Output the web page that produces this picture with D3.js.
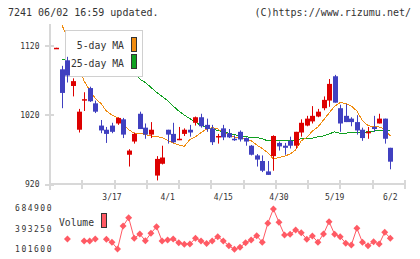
<!DOCTYPE html>
<html>
<head>
<meta charset="utf-8">
<script src="https://cdn.jsdelivr.net/npm/d3@7"></script>
<style>
  html, body { margin: 0; padding: 0; background: #fff; }
  svg { display: block; }
  text { font-family: "DejaVu Sans Mono", monospace; fill: #333; }
</style>
</head>
<body>
<div id="chart"></div>
<script>
// daily prices, oldest first (6/2 is the last one)
const open = [1116, 1086, 1099, 1062, 999, 1041, 1059, 1037, 1005, 999, 1005, 1008, 1014, 963, 982, 1022, 1002, 992, 933, 950,
  999, 993, 984, 993, 999, 1009, 1017, 1006, 1001, 988, 1001, 994, 986, 996, 987, 976, 962, 954, 939, 961,
  980, 976, 983, 976, 995, 1005, 1011, 1018, 1030, 1041, 1076, 1030, 1019, 1015, 1010, 999, 995, 1003, 1008, 1015, 973];
const high = [1117, 1091, 1104, 1073, 1029, 1053, 1061, 1041, 1013, 1003, 1009, 1017, 1016, 971, 995, 1025, 1008, 1010, 961, 976,
  999, 1009, 1003, 1001, 1006, 1018, 1022, 1015, 1006, 993, 1006, 1000, 991, 998, 988, 977, 964, 962, 954, 991,
  982, 980, 989, 996, 1014, 1019, 1033, 1029, 1047, 1072, 1078, 1035, 1036, 1017, 1020, 1002, 1003, 1019, 1022, 1015, 973];
const low = [1116, 1030, 1067, 1047, 995, 1026, 1039, 1023, 994, 980, 994, 1006, 987, 946, 979, 1000, 986, 987, 926, 949,
  979, 980, 984, 990, 989, 1005, 1002, 996, 977, 979, 984, 987, 983, 982, 976, 962, 946, 938, 934, 940,
  969, 963, 972, 972, 989, 1004, 1008, 1017, 1027, 1032, 1038, 996, 1010, 1004, 992, 983, 986, 996, 1008, 979, 942];
const close = [1117, 1052, 1077, 1069, 1025, 1043, 1040, 1025, 998, 993, 996, 1016, 992, 969, 993, 1000, 992, 999, 957, 959,
  992, 981, 986, 999, 995, 1017, 1004, 1000, 981, 990, 988, 988, 984, 985, 982, 963, 956, 940, 934, 990,
  975, 973, 976, 996, 1009, 1015, 1019, 1025, 1042, 1065, 1038, 1008, 1010, 1010, 998, 987, 996, 1000, 1015, 986, 953];

const ma5 = [null, 1150, 1131, 1113, 1091, 1069, 1056, 1044, 1037, 1026, 1020, 1016, 1008, 999, 994, 994, 992, 990, 989, 988,
  984, 980, 977, 975, 985, 989, 995, 1000, 1002, 1000, 995, 992, 988, 987, 986, 983, 977, 972, 966, 957,
  959, 961, 964, 970, 983, 988, 997, 1003, 1013, 1023, 1033, 1038, 1037, 1033, 1026, 1012, 1005, 1003, 1003, 1000, 990];
const ma25 = [null, 1100, 1099, 1098, 1097, 1096, 1095, 1094, 1093, 1092, 1091, 1089, 1087, 1085, 1082, 1072, 1067, 1060, 1053, 1047,
  1041, 1033, 1026, 1020, 1015, 1010, 1005, 1003, 1000, 998, 996, 994, 992, 990, 989, 988, 988, 986, 983, 983,
  983, 983, 983, 984, 986, 986, 987, 989, 990, 993, 996, 994, 994, 995, 995, 995, 996, 997, 998, 998, 998];

const volume = [null, null, 248100, null, null, 219700, 219700, 248100, null, 243900, 201200, 105900, 433100, 551200, 258100, 319300, 224000, 329200, 423100, 219700,
  233900, 248100, 195500, 172700, 177000, 258100, 219700, 184100, 219700, 280900, 219700, 152800, 101600, 130100, 195500, 233900, 295100, 201200, 471500, 674900,
  485700, 305000, 315000, 376200, 337800, 243900, 290800, 201200, 319300, 494300, 315000, 280900, 187000, 162800, 400400, 201200, 152800, 209700, 177000, 343500, 258100];

const dateIdx = [10, 20, 30, 40, 50, 60];
const dateLabels = ["3/17", "4/1", "4/15", "4/30", "5/19", "6/2"];
const priceTicks = [920, 1020, 1120];
const volTicks = [101600, 393250, 684900];

const W = 420, H = 259;
const RED = "#dd0000", BLUE = "#4040c0", ORANGE = "#f08c10", GREEN = "#10a020", VOL = "#ff5a64", GRID = "#d8d8d8";

const svg = d3.select("#chart").append("svg")
  .attr("width", W).attr("height", H);

// header
svg.append("text").attr("x", 8).attr("y", 16).style("font-size", "10px")
  .text("7241 06/02 16:59 updated.");
svg.append("text").attr("x", 411).attr("y", 16).attr("text-anchor", "end").style("font-size", "10px")
  .text("(C)https://www.rizumu.net/");

const n = close.length;
const x = d3.scaleLinear().domain([0, n - 1]).range([56.3, 390.3]);
const y = d3.scaleLinear().domain([920, 1120]).range([184.6, 45.7]);
const yv = d3.scaleLinear().domain([101600, 684900]).range([249.3, 208.3]);

// axes
const axis = svg.append("g").attr("stroke", GRID).attr("stroke-width", 2);
axis.append("line").attr("x1", 50).attr("x2", 50).attr("y1", 24).attr("y2", 190);
axis.append("line").attr("x1", 50).attr("x2", 405).attr("y1", 184).attr("y2", 184);
priceTicks.forEach(t => {
  axis.append("line").attr("x1", 45).attr("x2", 54).attr("y1", Math.round(y(t))).attr("y2", Math.round(y(t)));
  svg.append("text").attr("x", 39.5).attr("y", y(t)).attr("dy", "0.35em")
    .attr("text-anchor", "end").style("font-size", "8px").text(t);
});
const tx = d3.scaleLinear().domain([0, 11]).range([50, 405]);
d3.range(1, 12).forEach(k => {
  const px = Math.round(tx(k));
  axis.append("line").attr("x1", px).attr("x2", px).attr("y1", 180).attr("y2", 189);
});
dateIdx.forEach((d, i) => {
  svg.append("text").attr("x", x(d)).attr("y", 197.5).attr("dy", "0.35em")
    .attr("text-anchor", "middle").style("font-size", "8px").text(dateLabels[i]);
});

// moving averages
const maLine = arr => d3.line()
  .defined(i => arr[i] != null)
  .x(i => x(i)).y(i => y(arr[i]))(d3.range(n));
svg.append("path").attr("d", maLine(ma25)).attr("fill", "none")
  .attr("stroke", GREEN).attr("stroke-width", 1).attr("shape-rendering", "crispEdges");
svg.append("path").attr("d", maLine(ma5)).attr("fill", "none")
  .attr("stroke", ORANGE).attr("stroke-width", 1).attr("shape-rendering", "crispEdges");

// legend box (covers the lines under it)
const lg = svg.append("g");
lg.append("rect").attr("x", 65.5).attr("y", 30.5).attr("width", 77).attr("height", 46)
  .attr("fill", "#fff").attr("stroke", "#d0d0d0");
lg.append("text").attr("x", 124).attr("y", 46).attr("dy", "0.35em").attr("text-anchor", "end")
  .style("font-size", "9.8px").text("5-day MA");
lg.append("text").attr("x", 124).attr("y", 63.5).attr("dy", "0.35em").attr("text-anchor", "end")
  .style("font-size", "9.8px").text("25-day MA");
lg.append("rect").attr("x", 131.5).attr("y", 37.5).attr("width", 5).attr("height", 14)
  .attr("fill", ORANGE).attr("stroke", "#333");
lg.append("rect").attr("x", 131.5).attr("y", 54.5).attr("width", 5).attr("height", 14)
  .attr("fill", GREEN).attr("stroke", "#333");

// candles
const candles = svg.append("g");
d3.range(n).forEach(i => {
  const cx = Math.round(x(i));
  const col = close[i] >= open[i] ? RED : BLUE;
  candles.append("line").attr("x1", cx + 0.5).attr("x2", cx + 0.5)
    .attr("y1", y(high[i])).attr("y2", y(low[i])).attr("stroke", col).attr("stroke-width", 1);
  const top = y(Math.max(open[i], close[i]));
  const bh = Math.max(1.5, Math.abs(y(open[i]) - y(close[i])));
  candles.append("rect").attr("x", cx - 2).attr("y", top).attr("width", 5).attr("height", bh)
    .attr("fill", col);
});

// volume
const vline = d3.line().defined(i => volume[i] != null).x(i => x(i)).y(i => yv(volume[i]));
svg.append("path").attr("d", vline(d3.range(n))).attr("fill", "none").attr("stroke", VOL).attr("stroke-width", 1);
const diamond = d3.symbol(d3.symbolSquare, 24);
svg.append("g").selectAll("path")
  .data(d3.range(n).filter(i => volume[i] != null))
  .enter().append("path")
  .attr("d", diamond)
  .attr("transform", i => `translate(${x(i)},${yv(volume[i])}) rotate(45)`)
  .attr("fill", VOL);
volTicks.forEach(t => {
  svg.append("text").attr("x", 53).attr("y", yv(t)).attr("dy", "0.35em").attr("text-anchor", "end")
    .style("font-size", "8px").style("letter-spacing", "1.5px").text(t);
});
svg.append("text").attr("x", 59).attr("y", 222.5).attr("dy", "0.35em").style("font-size", "9.7px").text("Volume");
svg.append("rect").attr("x", 101.5).attr("y", 213.5).attr("width", 5).attr("height", 14)
  .attr("fill", VOL).attr("stroke", "#333");
</script>
</body>
</html>
